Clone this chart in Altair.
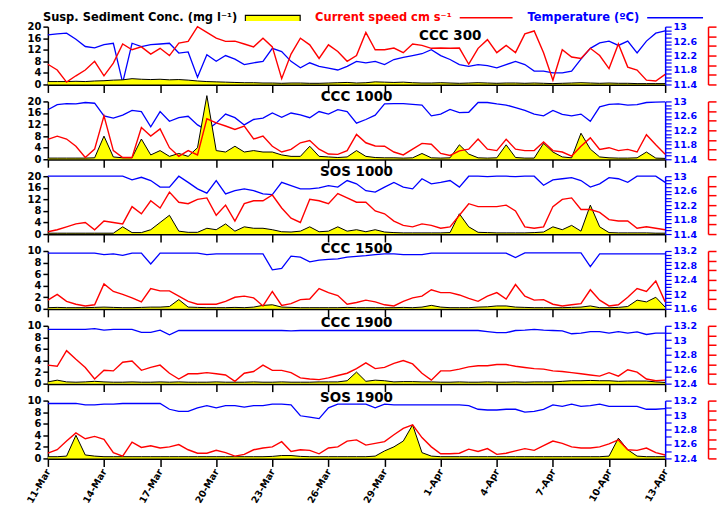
import altair as alt
import pandas as pd

# ---------------- data (12-hourly) ----------------
times = pd.date_range("2009-03-11 00:00", periods=67, freq="12h").strftime("%Y-%m-%dT%H:%M:%S").tolist()

ssc_ccc300 = [1.0, 1.0, 1.0, 1.1, 1.0, 1.2, 1.3, 1.5, 1.6, 2.0, 1.8, 1.7, 1.8, 1.6, 1.7, 1.5, 1.2, 1.0, 0.9, 0.8,
              0.7, 0.6, 0.6, 0.5, 0.5, 0.4, 0.5, 0.5, 0.4, 0.4, 0.5, 0.6, 0.7, 0.5, 0.6, 0.9, 0.8, 0.7, 0.8, 0.6,
              0.5, 0.5, 0.6, 0.5, 0.4, 0.5, 0.6, 0.5, 0.4, 0.5, 0.5, 0.4, 0.5, 0.4, 0.3, 0.4, 0.5, 0.6, 0.5, 0.4,
              0.5, 0.4, 0.4, 0.3, 0.3, 0.3, 0.3]
cur_ccc300 = [7, 5, 0.8, 3, 5, 8, 3, 7.4, 14, 12, 13, 10.5, 12.5, 10, 14.3, 14.9, 20, 18, 16, 14.9,
              15, 14, 13, 16, 13, 2, 10.5, 16, 13.7, 9, 13.7, 11.4, 8, 10, 18, 12, 12, 12.6, 11, 14,
              13.5, 12.5, 12.6, 12.5, 12.6, 7, 12.5, 15.5, 11, 13.5, 11, 17.5, 18.5, 11, 1.5, 12, 9.5, 9, 12.5, 10,
              5.5, 14, 6, 5, 1.5, 1.2, 3.5]
tmp_ccc300 = [12.77, 12.80, 12.82, 12.65, 12.45, 12.41, 12.5, 12.54, 11.45, 12.54, 12.45, 12.5, 12.52, 12.54, 12.27,
              12.3, 11.6, 12.22, 12.04, 12.2, 12.1, 11.95, 12.0, 12.04, 12.4, 12.31, 12.04, 11.86, 12.0, 11.9,
              11.85, 11.8, 11.9, 12.04, 12.0, 12.04, 11.95, 12.09, 12.15, 12.2, 12.25, 12.36, 12.2, 12.09, 11.95,
              11.9, 11.95, 11.92, 11.86, 11.95, 12.04, 11.95, 11.77, 11.77, 11.72, 11.72, 11.77, 12.1, 12.4, 12.55,
              12.6, 12.48, 12.6, 12.27, 12.6, 12.82, 12.88]

ssc_ccc1000 = [0.4, 0.4, 0.4, 0.4, 0.4, 0.5, 8, 0.8, 0.5, 0.5, 7, 1.5, 3, 1, 2, 1, 4, 22, 3, 2.5,
               4.5, 2.5, 3, 2.5, 2.5, 1.5, 1, 1, 4.5, 1, 0.8, 0.6, 0.8, 3, 1, 0.6, 0.5, 0.5, 0.4, 0.5,
               2, 0.5, 0.4, 0.5, 5, 1.8, 0.5, 0.4, 0.5, 5, 0.6, 0.4, 0.4, 5.5, 2.5, 0.8, 0.5, 9, 3.5, 0.8,
               0.5, 0.4, 0.4, 0.5, 2.5, 0.4, 0.3]
cur_ccc1000 = [6.9, 8, 7, 4.5, 0.6, 3.5, 15, 3, 0.6, 0.6, 11, 8, 10.5, 4, 1, 3, 1.5, 14, 12.6, 11.5,
               10.3, 11.5, 7, 8, 4.5, 2.5, 3.4, 5.7, 6.5, 3.5, 1.8, 1.7, 3, 8.6, 5.7, 4.6, 4.5, 2.5, 1.5, 3.5,
               5.5, 5.2, 2, 1.3, 2.9, 3.5, 7, 3.5, 3, 6.9, 3.5, 3, 3, 6, 3, 2.5, 1.1, 4.5, 7.4, 3.4,
               4, 3, 3.4, 2.5, 8.5, 5, 1.7]
tmp_ccc1000 = [12.77, 12.91, 12.94, 12.93, 12.97, 12.95, 12.6, 12.54, 12.62, 12.75, 12.72, 12.3, 12.72, 12.45, 12.55,
               12.59, 12.35, 12.2, 12.4, 12.65, 12.55, 12.35, 12.5, 12.54, 12.68, 12.56, 12.68, 12.63, 12.55, 12.72,
               12.65, 12.77, 12.72, 12.4, 12.5, 12.62, 12.93, 12.94, 12.94, 12.92, 12.9, 12.6, 12.65, 12.78, 12.69,
               12.7, 12.97, 12.97, 12.93, 12.9, 12.83, 12.75, 12.65, 12.6, 12.75, 12.64, 12.6, 12.65, 12.45, 12.85,
               12.92, 12.93, 12.9, 12.91, 12.97, 12.98, 12.99]

ssc_sos1000 = [0.3, 0.3, 0.3, 0.3, 0.3, 0.3, 0.3, 0.3, 2.5, 0.5, 0.5, 1.5, 4, 6.5, 1, 0.6, 0.6, 2, 1.5, 3.5,
               1, 2.5, 2, 2, 1.5, 0.8, 0.7, 1, 2.5, 0.8, 1, 2.5, 1, 1.5, 0.8, 1.5, 0.7, 0.5, 0.4, 0.4,
               0.4, 0.4, 0.4, 0.5, 7, 2.5, 0.6, 0.5, 0.4, 0.4, 0.4, 0.4, 0.5, 0.7, 2.5, 1.5, 3, 1, 10, 2.5,
               0.5, 0.4, 0.4, 0.4, 0.4, 0.3, 0.3]
cur_sos1000 = [0.8, 1.5, 2.5, 3.5, 4, 1.5, 4.5, 4, 3.5, 9.5, 7, 11.5, 9, 14.5, 11, 10.5, 12, 12.5, 6.5, 10,
               4.5, 10.5, 11.5, 11.5, 13.5, 9, 5.5, 4, 12, 11.5, 10.5, 14, 12.5, 11, 11, 8, 7, 4.5, 3, 2.5,
               3.5, 3, 2, 2.5, 6.5, 10.5, 9.5, 9.5, 9.5, 10, 8, 2.5, 2, 2.5, 9.5, 12, 12.5, 8.5, 8.5, 7.5,
               5, 4.5, 4.5, 2, 2.5, 2, 1.5]
tmp_sos1000 = [13.0, 13.0, 13.0, 13.0, 13.0, 13.0, 13.0, 13.0, 13.0, 12.9, 12.97, 12.88, 12.7, 12.7, 13.0,
               12.83, 12.65, 12.53, 12.88, 12.51, 12.6, 12.65, 12.6, 12.51, 12.49, 12.83, 12.74, 12.65, 12.65, 12.68,
               12.74, 12.7, 12.88, 12.79, 12.6, 12.56, 12.7, 12.83, 12.7, 12.65, 12.93, 12.79, 12.83, 12.88, 12.7,
               13.0, 13.0, 12.99, 13.0, 13.0, 12.99, 13.0, 13.0, 12.75, 12.9, 12.93, 12.96, 12.88, 12.7, 12.79,
               12.96, 12.93, 12.83, 13.0, 13.0, 13.0, 12.83]

ssc_ccc1500 = [0.2, 0.25, 0.2, 0.2, 0.2, 0.25, 0.3, 0.25, 0.2, 0.2, 0.25, 0.3, 0.3, 0.4, 1.6, 0.3, 0.25, 0.2, 0.2, 0.2,
               0.25, 0.2, 0.3, 0.6, 0.7, 0.3, 0.25, 0.2, 0.2, 0.2, 0.2, 0.2, 0.25, 0.2, 0.2, 0.2, 0.2, 0.2, 0.25, 0.2,
               0.3, 0.6, 0.3, 0.2, 0.2, 0.2, 0.3, 0.35, 0.5, 0.5, 0.3, 0.25, 0.2, 0.2, 0.2, 0.2, 0.25, 0.3, 0.5, 0.2,
               0.2, 0.25, 0.4, 1.5, 1.2, 2.0, 0.3]
cur_ccc1500 = [1.5, 2.5, 1.3, 0.8, 0.5, 0.7, 4.3, 3, 2.5, 1.9, 1.2, 3.5, 3.1, 3.1, 2.2, 1.3, 0.8, 0.8, 0.8, 1.3,
               2, 2.2, 1.9, 0.5, 3, 0.6, 0.9, 1.6, 1.7, 3.5, 2.8, 2.3, 0.8, 1.1, 1.5, 1.2, 0.7, 0.5, 1.3, 1.9,
               2.2, 3.3, 2.8, 2.8, 2.4, 1.8, 1.3, 2.2, 2.8, 1.7, 4.2, 2.2, 1.5, 1.6, 0.8, 0.5, 0.7, 0.9, 3.3, 1.5,
               0.5, 0.7, 2, 3.5, 3, 4.8, 1.2]
tmp_ccc1500 = [13.14, 13.14, 13.14, 13.14, 13.14, 13.14, 13.1, 13.12, 13.08, 13.14, 13.14, 12.84, 13.14, 13.14, 13.14,
               13.14, 13.14, 13.1, 13.12, 13.12, 13.12, 13.12, 13.12, 13.12, 12.68, 12.72, 13.06, 13.03, 12.9, 12.95,
               12.97, 12.98, 13.03, 13.05, 13.07, 13.1, 13.12, 13.12, 13.1, 13.1, 13.1, 13.14, 13.14, 13.14, 13.14,
               13.14, 13.14, 13.14, 13.14, 13.14, 13.02, 13.15, 13.15, 13.15, 13.15, 13.15, 13.15, 13.15, 12.77, 13.12,
               13.12, 13.12, 13.12, 13.12, 13.12, 13.12, 13.12]

ssc_ccc1900 = [0.3, 0.6, 0.3, 0.25, 0.3, 0.4, 0.3, 0.25, 0.25, 0.3, 0.25, 0.25, 0.3, 0.25, 0.3, 0.25, 0.25, 0.25, 0.3, 0.25,
               0.25, 0.25, 0.3, 0.25, 0.25, 0.3, 0.25, 0.25, 0.25, 0.3, 0.3, 0.3, 0.5, 2.0, 0.4, 0.6, 0.5, 0.3, 0.35, 0.35,
               0.3, 0.3, 0.25, 0.25, 0.3, 0.25, 0.25, 0.3, 0.25, 0.25, 0.3, 0.25, 0.3, 0.3, 0.3, 0.4, 0.5, 0.5, 0.55, 0.5,
               0.5, 0.4, 0.45, 0.45, 0.45, 0.3, 0.2]
cur_ccc1900 = [3.2, 3.0, 5.7, 4.2, 2.8, 0.8, 2.3, 2.2, 3.7, 3.9, 2.3, 2.8, 3.2, 1.8, 0.8, 1.7, 1.7, 1.9, 1.7, 1.5,
               0.4, 1.8, 2.1, 3.2, 2.3, 2.3, 1.9, 1.0, 0.8, 0.7, 1.0, 1.4, 1.8, 2.6, 3.6, 2.6, 2.8, 3.5, 4.0, 3.4,
               1.8, 0.6, 2.2, 2.2, 2.5, 2.9, 3.1, 3.1, 3.3, 3.3, 3.0, 2.8, 2.6, 2.5, 2.2, 2.1, 1.9, 1.7, 1.5, 1.3,
               1.9, 1.3, 2.4, 2.0, 0.8, 0.5, 0.6]
tmp_ccc1900 = [13.15, 13.15, 13.15, 13.15, 13.15, 13.16, 13.14, 13.15, 13.15, 13.15, 13.11, 13.11, 13.14, 13.075, 13.135,
               13.135, 13.135, 13.135, 13.135, 13.135, 13.135, 13.135, 13.135, 13.135, 13.135, 13.135, 13.13, 13.135, 13.135, 13.135,
               13.135, 13.135, 13.135, 13.135, 13.135, 13.135, 13.135, 13.135, 13.135, 13.135, 13.135, 13.135, 13.135, 13.135, 13.135,
               13.135, 13.135, 13.12, 13.105, 13.105, 13.135, 13.14, 13.15, 13.14, 13.135, 13.13, 13.09, 13.1, 13.12, 13.12,
               13.1, 13.12, 13.1, 13.115, 13.08, 13.1, 13.1]

ssc_sos1900 = [0.3, 0.3, 0.4, 4.0, 0.6, 0.4, 0.3, 0.3, 0.3, 0.3, 0.3, 0.3, 0.3, 0.3, 0.3, 0.3, 0.3, 0.3, 0.3, 0.3,
               0.3, 0.3, 0.3, 0.3, 0.35, 0.5, 0.5, 0.35, 0.3, 0.3, 0.3, 0.3, 0.3, 0.3, 0.3, 0.4, 1.3, 2.0, 3.0, 5.8,
               1.0, 0.4, 0.3, 0.3, 0.3, 0.3, 0.3, 0.3, 0.3, 0.3, 0.3, 0.3, 0.3, 0.3, 0.3, 0.3, 0.3, 0.3, 0.3, 0.3,
               0.4, 3.5, 1.5, 0.4, 0.3, 0.3, 0.3]
cur_sos1900 = [0.9, 1.5, 3.0, 4.4, 3.4, 3.8, 3.3, 1.0, 0.4, 2.8, 1.9, 2.2, 1.8, 2.0, 2.4, 1.5, 0.9, 0.9, 1.4, 1.0,
               0.4, 0.7, 1.5, 1.8, 2.0, 2.9, 1.2, 1.5, 1.4, 0.8, 1.8, 2.0, 3.0, 3.2, 2.3, 2.6, 2.9, 4.1, 5.2, 5.8,
               3.6, 2.0, 0.8, 0.8, 0.9, 1.6, 1.2, 1.7, 0.7, 0.9, 1.3, 1.7, 1.4, 2.2, 3.0, 2.6, 2.0, 1.8, 1.8, 2.0,
               2.5, 3.2, 1.5, 1.4, 1.8, 1.0, 0.6]
tmp_sos1900 = [13.16, 13.16, 13.16, 13.16, 13.14, 13.14, 13.15, 13.15, 13.16, 13.16, 13.16, 13.16, 13.16, 13.08, 13.05,
               13.05, 13.1, 13.13, 13.1, 13.13, 13.13, 13.11, 13.13, 13.13, 13.15, 13.15, 13.14, 12.99, 12.97, 12.95,
               13.1, 13.15, 13.15, 13.15, 13.15, 13.1, 13.15, 13.14, 13.14, 13.14, 13.14, 13.14, 13.14, 13.14, 13.14,
               13.13, 13.08, 13.07, 13.07, 13.08, 13.08, 13.04, 13.05, 13.08, 13.14, 13.12, 13.15, 13.12, 13.13, 13.15,
               13.12, 13.12, 13.12, 13.12, 13.08, 13.08, 13.09]

panel_names = ["CCC 300", "CCC 1000", "SOS 1000", "CCC 1500", "CCC 1900", "SOS 1900"]
x_tick_days = [(3, 11), (3, 14), (3, 17), (3, 20), (3, 23), (3, 26), (3, 29),
               (4, 1), (4, 4), (4, 7), (4, 10), (4, 13)]

SSC_NAME = "Susp. Sediment Conc. (mg l\u207b\u00b9)"
CUR_NAME = "Current speed cm s\u207b\u00b9"
TMP_NAME = "Temperature (\u00baC)"
FONT = "DejaVu Sans"

panels = [
    dict(ssc=ssc_ccc300, cur=cur_ccc300, tmp=tmp_ccc300, ymax=20, ystep=4, tmin=11.4, tmax=13.0, mod=4, rem=2, dx=94, dy=32),
    dict(ssc=ssc_ccc1000, cur=cur_ccc1000, tmp=tmp_ccc1000, ymax=20, ystep=4, tmin=11.4, tmax=13.0, mod=4, rem=2, dx=0, dy=21),
    dict(ssc=ssc_sos1000, cur=cur_sos1000, tmp=tmp_sos1000, ymax=20, ystep=4, tmin=11.4, tmax=13.0, mod=4, rem=2, dx=0, dy=18),
    dict(ssc=ssc_ccc1500, cur=cur_ccc1500, tmp=tmp_ccc1500, ymax=10, ystep=2, tmin=11.6, tmax=13.2, mod=4, rem=0, dx=0, dy=21),
    dict(ssc=ssc_ccc1900, cur=cur_ccc1900, tmp=tmp_ccc1900, ymax=10, ystep=2, tmin=12.4, tmax=13.2, mod=2, rem=0, dx=0, dy=20),
    dict(ssc=ssc_sos1900, cur=cur_sos1900, tmp=tmp_sos1900, ymax=10, ystep=2, tmin=12.4, tmax=13.2, mod=2, rem=0, dx=0, dy=20),
]

W, H = 619, 58

xvals = [alt.DateTime(year=2009, month=m, date=d) for m, d in x_tick_days]
xdomain = [alt.DateTime(year=2009, month=3, date=11), alt.DateTime(year=2009, month=4, date=13)]

leg_common = dict(orient="none", titleOrient="left", titleAnchor="middle", titleBaseline="middle",
                  labelExpr="''", titleFont=FONT, titleFontSize=11.5, clipHeight=14,
                  titleFontWeight="bold", titlePadding=6, padding=0, titleLimit=400, labelOffset=0)
leg_ssc = alt.Legend(legendX=-5, legendY=-16, title=SSC_NAME, titleColor="black",
                     symbolType="M-1,0.12V-0.08H1V0.12", symbolSize=3025, symbolStrokeColor="black",
                     symbolStrokeWidth=1.2, **leg_common)
leg_cur = alt.Legend(legendX=268, legendY=-16, title=CUR_NAME, titleColor="#ff0000",
                     symbolType="stroke", symbolSize=2809, symbolStrokeWidth=1.5, **leg_common)
leg_tmp = alt.Legend(legendX=481, legendY=-16, title=TMP_NAME, titleColor="#0000ff",
                     symbolType="stroke", symbolSize=3136, symbolStrokeWidth=1.5, **leg_common)


def make_panel(i, p):
    last = i == len(panels) - 1
    df = pd.DataFrame({"t": times, "ssc": p["ssc"], "cur": p["cur"], "tmp": p["tmp"]})
    base = alt.Chart(df)
    xaxis = alt.Axis(values=xvals, format="%-d-%b", labels=last, labelAngle=300, labelAlign="right",
                     labelBaseline="middle", labelFontSize=9.5, labelFont=FONT, labelFontWeight="bold",
                     labelColor="black", labelPadding=3, tickSize=8, tickWidth=1.5, tickColor="black",
                     domainColor="black", domainWidth=2, grid=False, title=None, labelFlush=False,
                     labelOverlap=False)
    x = alt.X("t:T", scale=alt.Scale(domain=xdomain), axis=xaxis)

    ymax, ystep = p["ymax"], p["ystep"]
    lvals = list(range(0, ymax + 1, ystep))
    laxis = alt.Axis(orient="left", values=lvals, title=None, grid=False, domainColor="black", domainWidth=1.5,
                     tickColor="black", tickSize=5, tickWidth=1.5, labelFont=FONT, labelFontWeight="bold",
                     labelFontSize=10, labelColor="black", labelPadding=2, labelFlush=False, labelOverlap=False)
    lscale = alt.Scale(domain=[0, ymax], nice=False, zero=True)

    area = base.transform_calculate(s=f"'{SSC_NAME}'").mark_area(opacity=1).encode(
        x=x, y=alt.Y("ssc:Q", scale=lscale, axis=laxis),
        fill=alt.Fill("s:N", scale=alt.Scale(domain=[SSC_NAME], range=["#ffff00"]), legend=leg_ssc))
    sline = base.mark_line(color="black", strokeWidth=1).encode(
        x=x, y=alt.Y("ssc:Q", scale=lscale, axis=laxis))
    ssc_layer = alt.layer(area, sline)

    rvals = [round(ymax * k / 6, 4) for k in range(7)]
    raxis = alt.Axis(orient="right", offset=43, values=rvals, labels=False, title=None, grid=False,
                     domainColor="#ff0000", domainWidth=1.5, tickColor="#ff0000", tickSize=8, tickWidth=1.5)
    red = base.transform_calculate(s=f"'{CUR_NAME}'").mark_line(strokeWidth=1.4).encode(
        x=x, y=alt.Y("cur:Q", scale=alt.Scale(domain=[0, ymax], nice=False, zero=True), axis=raxis),
        stroke=alt.Stroke("s:N", scale=alt.Scale(domain=[CUR_NAME], range=["#ff0000"]), legend=leg_cur))

    tmin, tmax = p["tmin"], p["tmax"]
    n = int(round((tmax - tmin) * 10))
    tvals = [round(tmin + k / 10, 2) for k in range(n + 1)]
    texpr = (f"(round(datum.value*10) % {p['mod']} == {p['rem']}) ? "
             f"toString(round(datum.value*10)/10) : ''")
    taxis = alt.Axis(orient="right", values=tvals, labelExpr=texpr, title=None, grid=False,
                     domainColor="#0000ff", domainWidth=1.5, tickColor="#0000ff", tickSize=6, tickWidth=1.2,
                     labelFont=FONT, labelFontWeight="bold", labelFontSize=9.5, labelColor="#0000ff",
                     labelPadding=2, labelFlush=False, labelOverlap=False)
    blue = base.transform_calculate(s=f"'{TMP_NAME}'").mark_line(strokeWidth=1.3).encode(
        x=x, y=alt.Y("tmp:Q", scale=alt.Scale(domain=[tmin, tmax], nice=False, zero=False), axis=taxis),
        color=alt.Color("s:N", scale=alt.Scale(domain=[TMP_NAME], range=["#0000ff"]), legend=leg_tmp))

    title = alt.TitleParams(panel_names[i], anchor="middle", frame="group", orient="top", offset=0,
                            baseline="alphabetic", dx=p["dx"], dy=p["dy"], font=FONT, fontSize=13.5,
                            fontWeight="bold", color="black")
    return alt.layer(blue, ssc_layer, red).resolve_scale(y="independent").properties(
        width=W, height=H, title=title)


for p in panels:
    assert len(p["ssc"]) == len(times) and len(p["cur"]) == len(times) and len(p["tmp"]) == len(times)

chart = alt.vconcat(*[make_panel(i, p) for i, p in enumerate(panels)], spacing=17, bounds="flush").properties(
    autosize=alt.AutoSizeParams(type="pad"),
    padding={"left": 24, "top": 10, "right": 0, "bottom": 0},
).configure_view(stroke=None)

chart.save("out.html", embed_options={"renderer": "svg", "actions": False})
